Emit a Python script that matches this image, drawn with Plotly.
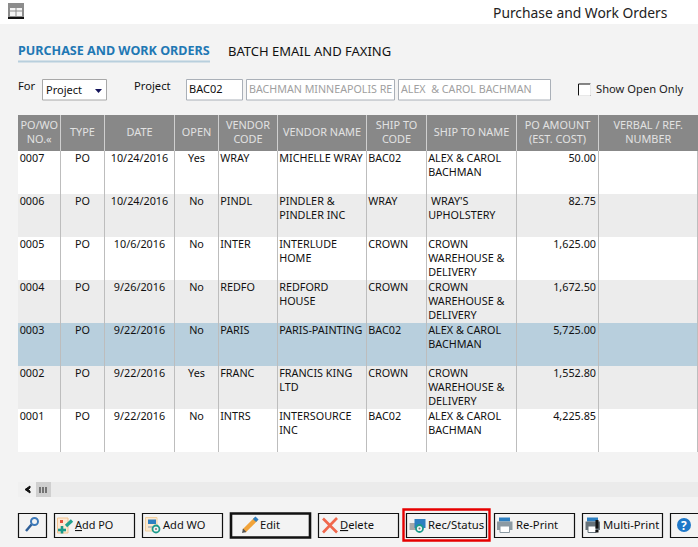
import plotly.graph_objects as go

W, H = 698, 547
FONT = "Noto Sans"

# ---------- data ----------
headers = ["PO/WO<br>NO.«", "TYPE", "DATE", "OPEN", "VENDOR<br>CODE", "VENDOR NAME",
           "SHIP TO<br>CODE", "SHIP TO NAME", "PO AMOUNT<br>(EST. COST)", "VERBAL / REF.<br>NUMBER"]
po_numbers = ["0007", "0006", "0005", "0004", "0003", "0002", "0001"]
types = ["PO", "PO", "PO", "PO", "PO", "PO", "PO"]
dates = ["10/24/2016", "10/24/2016", "10/6/2016", "9/26/2016", "9/22/2016", "9/22/2016", "9/22/2016"]
open_flags = ["Yes", "No", "No", "No", "No", "Yes", "No"]
vendor_codes = ["WRAY", "PINDL", "INTER", "REDFO", "PARIS", "FRANC", "INTRS"]
vendor_names = ["MICHELLE WRAY", "PINDLER &<br>PINDLER INC", "INTERLUDE<br>HOME", "REDFORD<br>HOUSE",
                "PARIS-PAINTING", "FRANCIS KING<br>LTD", "INTERSOURCE<br>INC"]
ship_codes = ["BAC02", "WRAY", "CROWN", "CROWN", "BAC02", "CROWN", "BAC02"]
ship_names = ["ALEX & CAROL<br>BACHMAN", " WRAY'S<br>UPHOLSTERY", "CROWN<br>WAREHOUSE &<br>DELIVERY",
              "CROWN<br>WAREHOUSE &<br>DELIVERY", "ALEX & CAROL<br>BACHMAN", "CROWN<br>WAREHOUSE &<br>DELIVERY",
              "ALEX & CAROL<br>BACHMAN"]
amounts = ["50.00", "82.75", "1,625.00", "1,672.50", "5,725.00", "1,552.80", "4,225.85"]
refs = ["", "", "", "", "", "", ""]
row_colors = ["#ffffff", "#ececec", "#ffffff", "#ececec", "#b8cfdd", "#ececec", "#ffffff"]

# ---------- layout constants ----------
col_edges = [18, 60.5, 104.5, 174.5, 218.5, 277.5, 366.5, 426.5, 516.5, 598.5, 698]
head_top, head_bot = 115, 151
row_h = 43
n = len(po_numbers)
body_bot = head_bot + n * row_h
CELL = 10.8

fig = go.Figure()

# row backgrounds and header band
fig.add_trace(go.Bar(orientation="h", y=[head_bot + (i + .5) * row_h for i in range(n)],
                     x=[W - 18] * n, base=18, width=row_h, marker=dict(color=row_colors, line_width=0),
                     hoverinfo="skip", showlegend=False))
fig.add_trace(go.Bar(orientation="h", y=[(head_top + head_bot) / 2], x=[W - 18], base=18,
                     width=head_bot - head_top, marker=dict(color="#888888", line_width=0),
                     hoverinfo="skip", showlegend=False))

columns = [(po_numbers, "l"), (types, "c"), (dates, "c"), (open_flags, "c"), (vendor_codes, "l"),
           (vendor_names, "l"), (ship_codes, "l"), (ship_names, "l"), (amounts, "r"), (refs, "l")]
pos = {"l": "bottom right", "c": "bottom center", "r": "bottom left"}
for c, (vals, al) in enumerate(columns):
    left, right = col_edges[c], col_edges[c + 1]
    xp = {"l": left + 1.7, "c": (left + right) / 2, "r": right - 2.5}[al]
    fig.add_trace(go.Scatter(x=[xp] * n, y=[head_bot + 3 + i * row_h for i in range(n)], text=vals,
                             mode="text", textposition=pos[al],
                             textfont=dict(family=FONT, size=CELL, color="#111111"),
                             hoverinfo="skip", showlegend=False))
# header text
fig.add_trace(go.Scatter(x=[(col_edges[i] + col_edges[i + 1]) / 2 for i in range(10)],
                         y=[(head_top + head_bot) / 2] * 10, text=headers, mode="text",
                         textposition="middle center",
                         textfont=dict(family=FONT, size=10.9, color="#e2e2e2"),
                         hoverinfo="skip", showlegend=False))

shapes, ann = [], []

def rect(x0, y0, x1, y1, fill="rgba(0,0,0,0)", line=None, lw=1, layer="below"):
    shapes.append(dict(type="rect", x0=x0, y0=y0, x1=x1, y1=y1, fillcolor=fill, layer=layer,
                       line=dict(color=line or "rgba(0,0,0,0)", width=lw if line else 0)))

def seg(x0, y0, x1, y1, color, lw=1, layer="above"):
    shapes.append(dict(type="line", x0=x0, y0=y0, x1=x1, y1=y1, layer=layer, line=dict(color=color, width=lw)))

def path(d, fill="rgba(0,0,0,0)", line=None, lw=1):
    shapes.append(dict(type="path", path=d, fillcolor=fill, layer="above",
                       line=dict(color=line or "rgba(0,0,0,0)", width=lw if line else 0)))

def circ(x0, y0, x1, y1, fill="rgba(0,0,0,0)", line=None, lw=1):
    shapes.append(dict(type="circle", x0=x0, y0=y0, x1=x1, y1=y1, fillcolor=fill, layer="above",
                       line=dict(color=line or "rgba(0,0,0,0)", width=lw if line else 0)))

def label(x, y, s, size=11, color="#111111", anchor="left", family=FONT):
    ann.append(dict(x=x, y=y, text=s, showarrow=False, xanchor=anchor, yanchor="middle", borderpad=0, borderwidth=0,
                    font=dict(family=family, size=size, color=color)))

# title bar
rect(0, 0, W, 24, fill="#ffffff")
rect(8, 3, 24, 18, fill="#8c8c8c")
rect(8, 17, 24, 19, fill="#111111")
rect(10, 8, 22, 16, fill="#f4f4f4")
seg(10, 11, 22, 11, "#8c8c8c"); seg(16, 8, 16, 16, "#8c8c8c")
label(493, 12, "Purchase and Work Orders", size=13.85, color="#222222")

# tabs
label(18, 50.5, "<b>PURCHASE AND WORK ORDERS</b>", size=12.55, color="#1f78b4")
rect(18, 60.5, 210, 62.5, fill="#b8cfdd")
label(228, 50.5, "BATCH EMAIL AND FAXING", size=13, color="#111111")

# filter row
label(18, 85.5, "For", size=11.2)
rect(42.5, 79.5, 106.5, 100, fill="#ffffff", line="#a8a8a8")
label(46, 89.5, "Project", size=11)
path("M 95 89 L 102 89 L 98.5 93 Z", fill="#14145a")
label(134, 85.5, "Project", size=11.2)
rect(186.5, 79.5, 242.5, 100, fill="#ffffff", line="#aab0b8")
label(189, 88.5, "BAC02", size=11)
rect(246.5, 79.5, 394.5, 100, fill="#ffffff", line="#aab0b8")
label(249, 88.5, "BACHMAN MINNEAPOLIS RE", size=10.7, color="#a0a0a0")
rect(398.5, 79.5, 550.5, 100, fill="#ffffff", line="#aab0b8")
label(401, 88.5, "ALEX  & CAROL BACHMAN", size=10.7, color="#a0a0a0")
rect(578.5, 84, 590.5, 95.5, fill="#ffffff", line="#111111")
seg(590.5, 84, 590.5, 95.5, "#e8e8e8"); seg(578.5, 95.5, 590.5, 95.5, "#e8e8e8")
label(596, 88.5, "Show Open Only", size=11.2, color="#222222")

# grid
for x in col_edges[1:-1]:
    seg(x, head_top, x, head_bot, "#cfcfcf", 1)
    seg(x, head_bot, x, body_bot, "#bdbdbd", 1)
seg(697.5, head_bot, 697.5, body_bot, "#bdbdbd", 1)

# scrollbar
rect(18, 482, W, 497, fill="#ebebeb")
rect(18, 482, 36, 497, fill="#f0f0f0")
rect(36, 482, 51, 497, fill="#cfcfcf")
for gx in (40, 43, 46):
    seg(gx, 487, gx, 493, "#555555", 1.5)
path("M 30 486 L 25 489.5 L 30 493 L 30 491 L 28 489.5 L 30 488 Z", fill="#111111", line="#111111", lw=1)

# buttons
btn_top, btn_bot = 513.5, 537.5
rect(403.5, 509.5, 489.5, 540.5, fill="#f3f3f3", line="#e60000", lw=2.4)
buttons = [(18.5, 46.5, 1.2), (54.5, 134.5, 1.2), (142.5, 222.5, 1.2), (231, 310, 2.6), (318.5, 398.5, 1.2),
           (406.5, 486.5, 1.2), (494.5, 574.5, 1.2), (582.5, 662.5, 1.2), (670.5, 702, 1.2)]
for x0, x1, lw in buttons:
    rect(x0, btn_top, x1, btn_bot, fill="#f3f3f3", line="#111111", lw=lw)

label(75, 524.8, "<u>A</u>dd PO", size=10.9)
label(163, 524.8, "Add WO", size=11.1)
label(260, 524.8, "Edit", size=11.2)
label(340, 524.8, "<u>D</u>elete", size=11.2)
label(427.5, 524.8, "Rec/Status", size=11.3)
label(515.5, 524.8, "Re-Print", size=11.2)
label(603, 524.8, "Multi-Print", size=11.3)

# --- icons ---
# magnifier
circ(31, 518, 38, 525, line="#3b78b8", lw=2)
seg(31.5, 524.5, 26, 531, "#2f5f98", 2.5)

def gear(cx, cy, r=3.5):
    circ(cx - r, cy - r, cx + r, cy + r, fill="#f3f3f3", line="#1a9a8a", lw=1.8)
    circ(cx - 1, cy - 1, cx + 1, cy + 1, fill="#777777")

# add PO
rect(57.5, 518, 68, 533, fill="#fde8d4", line="#f3c590", layer="above")
rect(60, 520, 63, 523, fill="#e0503c", layer="above")
seg(58, 530, 66, 530, "#1a9a8a", 2.6); seg(62, 526, 62, 533.5, "#1a9a8a", 2.6)
seg(66, 526, 72, 520.5, "#22a28f", 3.4)
# add WO
rect(145.5, 517.5, 157, 531, fill="#fbe8cf", line="#f0d0a0", layer="above")
rect(148, 519.5, 156, 524, fill="#2d7fc1", layer="above")
seg(148, 527, 153, 527, "#8899aa", 1)
gear(156, 529)
# edit pencil
seg(244, 531, 256, 519, "#f1a33a", 4.5)
seg(254.5, 520.5, 257, 518, "#2f7fc1", 4.5)
path("M 242 533 L 243 528.5 L 246.5 532 Z", fill="#555555")
# delete X
seg(323, 518.5, 337, 532.5, "#f0674c", 2.6)
seg(337, 518, 323, 532.5, "#f0674c", 2.6)
# rec/status
rect(409.5, 523, 416, 530, fill="#a8a8a8", layer="above")
rect(414.5, 519, 425.5, 528, fill="#2d7fc1", layer="above")
gear(419.5, 528.5)
# re-print
rect(499, 517.5, 510, 521.5, fill="#2d7fc1", layer="above")
rect(497, 521.5, 512.5, 530, fill="#8c9aa3", layer="above")
rect(500, 526, 509.5, 532.5, fill="#ffffff", line="#8c9aa3", layer="above")
# multi-print
rect(587, 517.5, 598, 521.5, fill="#2d7fc1", layer="above")
rect(585.5, 521.5, 600, 530, fill="#66727a", layer="above")
rect(588, 526, 596, 532.5, fill="#ffffff", line="#66727a", layer="above")
rect(595.5, 520, 598.5, 528.5, fill="#111111", layer="above")
rect(595.5, 530, 598.5, 532.5, fill="#111111", layer="above")
# help
circ(677, 518, 691, 532, fill="#1f78c8")
label(684, 525.2, "<b>?</b>", size=12, color="#ffffff", anchor="center")

fig.update_layout(width=W, height=H, margin=dict(l=0, r=0, t=0, b=0), paper_bgcolor="#f3f3f3",
                  plot_bgcolor="#f3f3f3", showlegend=False, barmode="overlay", shapes=shapes, annotations=ann,
                  xaxis=dict(range=[0, W], visible=False, fixedrange=True),
                  yaxis=dict(range=[H, 0], visible=False, fixedrange=True))
fig.write_html("out.html", config={"displayModeBar": False},
               post_script="document.body.style.margin='0';document.body.style.overflow='hidden';")
